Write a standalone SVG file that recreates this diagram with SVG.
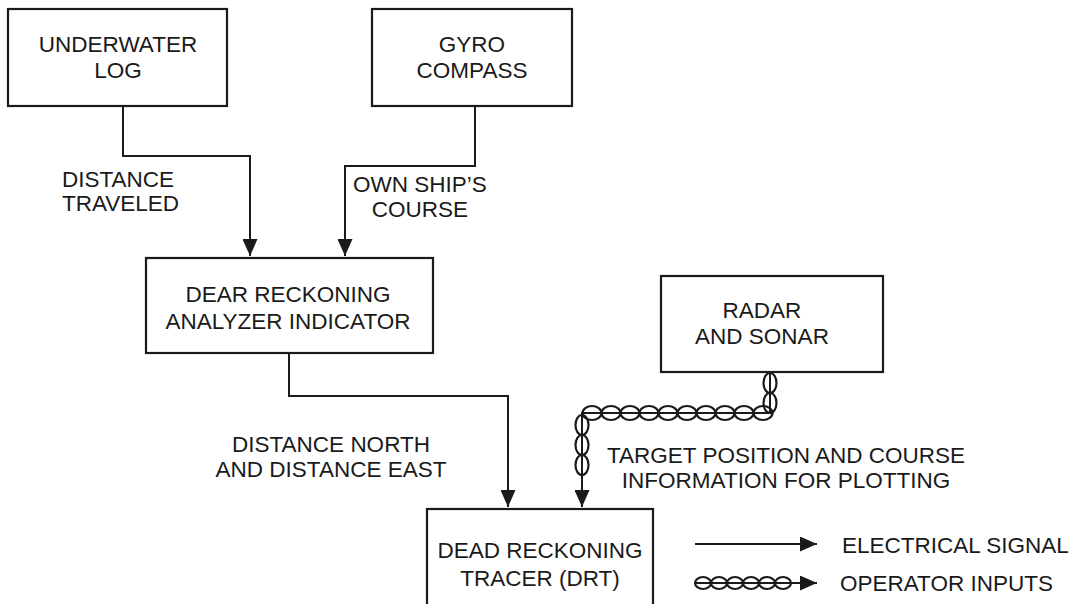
<svg xmlns="http://www.w3.org/2000/svg" width="1078" height="604" viewBox="0 0 1078 604">
<style>
.box{fill:#fff;stroke:#1a1a1a;stroke-width:2.2}
.ln{fill:none;stroke:#1a1a1a;stroke-width:2}
.ch{fill:none;stroke:#1a1a1a;stroke-width:2.2}
text{font-family:"Liberation Sans",Arial,sans-serif;font-size:22.5px;fill:#1a1a1a}
.c{text-anchor:middle}
</style>
<defs>
<marker id="arr" viewBox="0 0 17 15" refX="17" refY="7.5" markerWidth="17" markerHeight="15" orient="auto" markerUnits="userSpaceOnUse">
<path d="M0,0 L17,7.5 L0,15 Z" fill="#1a1a1a"/>
</marker>
<ellipse id="eh" rx="9.5" ry="7" class="ch"/>
<ellipse id="ev" rx="6.5" ry="10" class="ch"/>
<ellipse id="el" rx="8" ry="6" class="ch"/>
</defs>
<rect width="1078" height="604" fill="#fff"/>

<g id="underwater-log">
<rect class="box" x="8" y="9" width="219" height="97"/>
<text class="c" x="118" y="52">UNDERWATER</text>
<text class="c" x="118" y="78">LOG</text>
</g>
<g id="gyro-compass">
<rect class="box" x="372" y="9" width="200" height="97"/>
<text class="c" x="472" y="52">GYRO</text>
<text class="c" x="472" y="78">COMPASS</text>
</g>
<g id="drai">
<rect class="box" x="146" y="258" width="287" height="95"/>
<text class="c" x="288" y="302">DEAR RECKONING</text>
<text class="c" x="288" y="329">ANALYZER INDICATOR</text>
</g>
<g id="radar-sonar">
<rect class="box" x="661" y="276" width="222" height="96"/>
<text class="c" x="762" y="318">RADAR</text>
<text class="c" x="762" y="344">AND SONAR</text>
</g>
<g id="drt">
<rect class="box" x="427" y="509" width="226" height="120"/>
<text class="c" x="540" y="558">DEAD RECKONING</text>
<text class="c" x="540" y="586">TRACER (DRT)</text>
</g>

<g id="connectors">
<path class="ln" d="M123,106 V156 H250 V256" marker-end="url(#arr)"/>
<path class="ln" d="M475,106 V166 H345 V256" marker-end="url(#arr)"/>
<path class="ln" d="M289,353 V396 H508 V507" marker-end="url(#arr)"/>
<path class="ln" d="M770,372 V413 H582 V507" marker-end="url(#arr)"/>
<g id="operator-chain">
<use href="#ev" x="770" y="383"/>
<use href="#ev" x="770" y="403"/>
<use href="#eh" x="592" y="413"/>
<use href="#eh" x="611" y="413"/>
<use href="#eh" x="630" y="413"/>
<use href="#eh" x="649" y="413"/>
<use href="#eh" x="668" y="413"/>
<use href="#eh" x="687" y="413"/>
<use href="#eh" x="706" y="413"/>
<use href="#eh" x="725" y="413"/>
<use href="#eh" x="744" y="413"/>
<use href="#eh" x="763" y="413"/>
<use href="#ev" x="582" y="425"/>
<use href="#ev" x="582" y="445"/>
<use href="#ev" x="582" y="465"/>
</g>
</g>

<g id="labels">
<text x="62" y="187">DISTANCE</text>
<text x="62" y="211">TRAVELED</text>
<text class="c" x="420" y="192">OWN SHIP’S</text>
<text class="c" x="420" y="217">COURSE</text>
<text class="c" x="331" y="452">DISTANCE NORTH</text>
<text class="c" x="331" y="477">AND DISTANCE EAST</text>
<text class="c" x="786" y="463">TARGET POSITION AND COURSE</text>
<text class="c" x="786" y="488">INFORMATION FOR PLOTTING</text>
</g>

<g id="legend">
<path class="ln" d="M695,544 H817" marker-end="url(#arr)"/>
<text x="842" y="553">ELECTRICAL SIGNAL</text>
<path class="ln" d="M695,583 H817" marker-end="url(#arr)"/>
<use href="#el" x="703" y="583"/>
<use href="#el" x="719" y="583"/>
<use href="#el" x="735" y="583"/>
<use href="#el" x="751" y="583"/>
<use href="#el" x="767" y="583"/>
<use href="#el" x="783" y="583"/>
<text x="840" y="591">OPERATOR INPUTS</text>
</g>
</svg>
